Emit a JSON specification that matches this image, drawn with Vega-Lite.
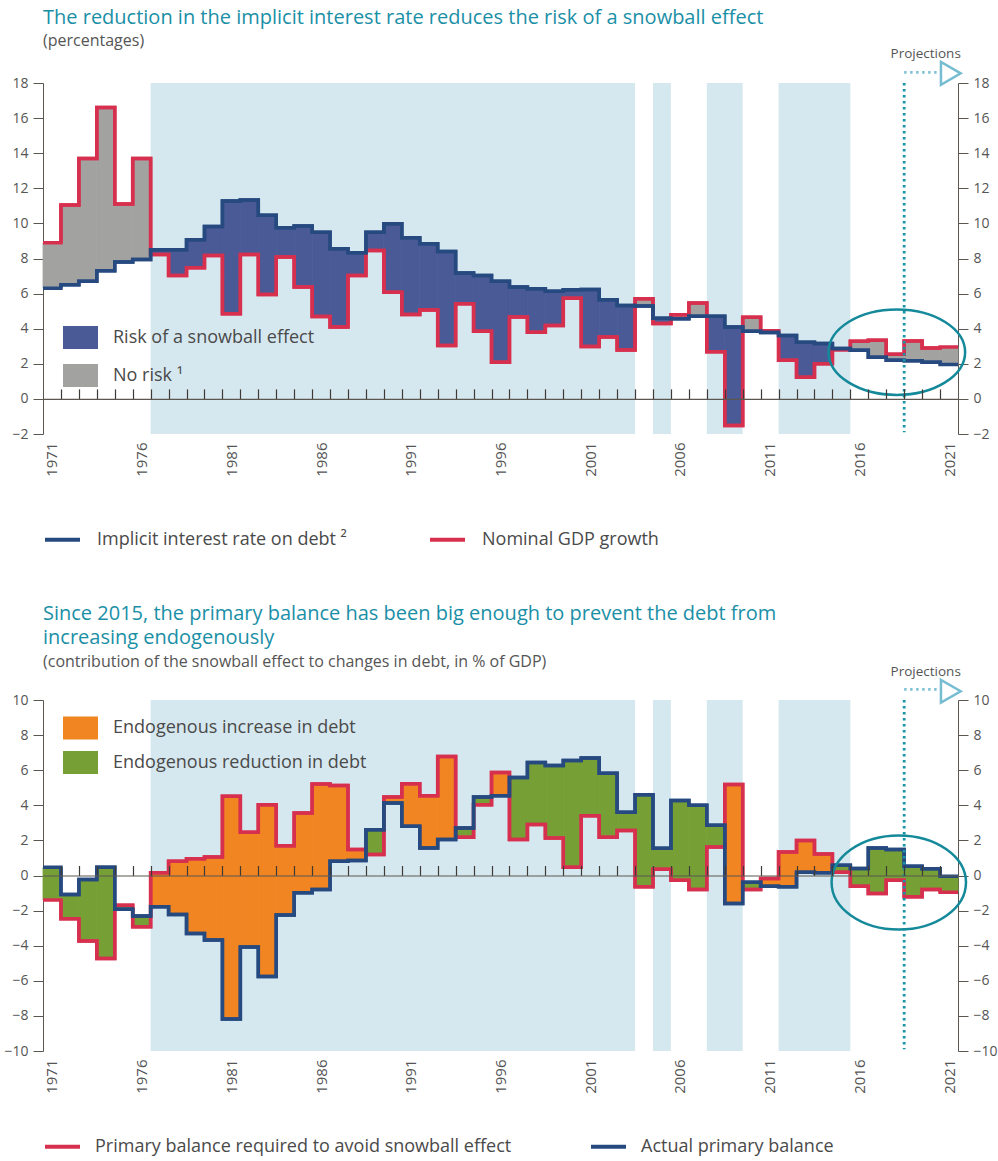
{
  "$schema": "https://vega.github.io/schema/vega-lite/v6.json",
  "background": "white",
  "padding": {"top": 8, "left": 3, "right": 3, "bottom": 0},
  "config": {
    "font": "Open Sans",
    "view": {"stroke": null},
    "axis": {"labelFont": "Open Sans", "labelColor": "#555555", "domainColor": "#5b5650", "tickColor": "#5b5650", "grid": false, "title": null, "labelOverlap": false, "labelBound": false, "labelFlush": false},
    "legend": {"labelFont": "Open Sans", "labelColor": "#4a4a4a", "title": null, "labelLimit": 0}
  },
  "resolve": {"scale": {"fill": "independent", "stroke": "independent"}, "legend": {"fill": "independent", "stroke": "independent"}},
  "spacing": 54,
  "datasets": {
    "bands": [
      {"start": 1977, "end": 2004},
      {"start": 2005, "end": 2006},
      {"start": 2008, "end": 2010},
      {"start": 2012, "end": 2016}
    ],
    "top": [
      {"year": 1971, "end": 1972, "implicit": 6.3, "nominal": 8.9, "category": "No risk ¹"},
      {"year": 1972, "end": 1973, "implicit": 6.5, "nominal": 11.05, "category": "No risk ¹"},
      {"year": 1973, "end": 1974, "implicit": 6.7, "nominal": 13.7, "category": "No risk ¹"},
      {"year": 1974, "end": 1975, "implicit": 7.3, "nominal": 16.6, "category": "No risk ¹"},
      {"year": 1975, "end": 1976, "implicit": 7.8, "nominal": 11.1, "category": "No risk ¹"},
      {"year": 1976, "end": 1977, "implicit": 7.95, "nominal": 13.7, "category": "No risk ¹"},
      {"year": 1977, "end": 1978, "implicit": 8.5, "nominal": 8.23, "category": "Risk of a snowball effect"},
      {"year": 1978, "end": 1979, "implicit": 8.5, "nominal": 7.03, "category": "Risk of a snowball effect"},
      {"year": 1979, "end": 1980, "implicit": 9.07, "nominal": 7.47, "category": "Risk of a snowball effect"},
      {"year": 1980, "end": 1981, "implicit": 9.83, "nominal": 8.17, "category": "Risk of a snowball effect"},
      {"year": 1981, "end": 1982, "implicit": 11.27, "nominal": 4.85, "category": "Risk of a snowball effect"},
      {"year": 1982, "end": 1983, "implicit": 11.33, "nominal": 8.23, "category": "Risk of a snowball effect"},
      {"year": 1983, "end": 1984, "implicit": 10.46, "nominal": 5.95, "category": "Risk of a snowball effect"},
      {"year": 1984, "end": 1985, "implicit": 9.75, "nominal": 8.08, "category": "Risk of a snowball effect"},
      {"year": 1985, "end": 1986, "implicit": 9.85, "nominal": 6.37, "category": "Risk of a snowball effect"},
      {"year": 1986, "end": 1987, "implicit": 9.5, "nominal": 4.7, "category": "Risk of a snowball effect"},
      {"year": 1987, "end": 1988, "implicit": 8.55, "nominal": 4.09, "category": "Risk of a snowball effect"},
      {"year": 1988, "end": 1989, "implicit": 8.33, "nominal": 7.03, "category": "Risk of a snowball effect"},
      {"year": 1989, "end": 1990, "implicit": 9.5, "nominal": 8.46, "category": "Risk of a snowball effect"},
      {"year": 1990, "end": 1991, "implicit": 9.98, "nominal": 6.08, "category": "Risk of a snowball effect"},
      {"year": 1991, "end": 1992, "implicit": 9.18, "nominal": 4.81, "category": "Risk of a snowball effect"},
      {"year": 1992, "end": 1993, "implicit": 8.84, "nominal": 5.06, "category": "Risk of a snowball effect"},
      {"year": 1993, "end": 1994, "implicit": 8.4, "nominal": 3.04, "category": "Risk of a snowball effect"},
      {"year": 1994, "end": 1995, "implicit": 7.17, "nominal": 5.42, "category": "Risk of a snowball effect"},
      {"year": 1995, "end": 1996, "implicit": 7.03, "nominal": 3.86, "category": "Risk of a snowball effect"},
      {"year": 1996, "end": 1997, "implicit": 6.71, "nominal": 2.09, "category": "Risk of a snowball effect"},
      {"year": 1997, "end": 1998, "implicit": 6.37, "nominal": 4.66, "category": "Risk of a snowball effect"},
      {"year": 1998, "end": 1999, "implicit": 6.27, "nominal": 3.8, "category": "Risk of a snowball effect"},
      {"year": 1999, "end": 2000, "implicit": 6.14, "nominal": 4.18, "category": "Risk of a snowball effect"},
      {"year": 2000, "end": 2001, "implicit": 6.22, "nominal": 5.74, "category": "Risk of a snowball effect"},
      {"year": 2001, "end": 2002, "implicit": 6.24, "nominal": 2.98, "category": "Risk of a snowball effect"},
      {"year": 2002, "end": 2003, "implicit": 5.65, "nominal": 3.52, "category": "Risk of a snowball effect"},
      {"year": 2003, "end": 2004, "implicit": 5.32, "nominal": 2.79, "category": "Risk of a snowball effect"},
      {"year": 2004, "end": 2005, "implicit": 5.29, "nominal": 5.7, "category": "No risk ¹"},
      {"year": 2005, "end": 2006, "implicit": 4.6, "nominal": 4.3, "category": "Risk of a snowball effect"},
      {"year": 2006, "end": 2007, "implicit": 4.56, "nominal": 4.8, "category": "No risk ¹"},
      {"year": 2007, "end": 2008, "implicit": 4.71, "nominal": 5.47, "category": "No risk ¹"},
      {"year": 2008, "end": 2009, "implicit": 4.71, "nominal": 2.68, "category": "Risk of a snowball effect"},
      {"year": 2009, "end": 2010, "implicit": 4.1, "nominal": -1.52, "category": "Risk of a snowball effect"},
      {"year": 2010, "end": 2011, "implicit": 3.85, "nominal": 4.65, "category": "No risk ¹"},
      {"year": 2011, "end": 2012, "implicit": 3.78, "nominal": 3.88, "category": "No risk ¹"},
      {"year": 2012, "end": 2013, "implicit": 3.61, "nominal": 2.2, "category": "Risk of a snowball effect"},
      {"year": 2013, "end": 2014, "implicit": 3.23, "nominal": 1.23, "category": "Risk of a snowball effect"},
      {"year": 2014, "end": 2015, "implicit": 3.15, "nominal": 2.01, "category": "Risk of a snowball effect"},
      {"year": 2015, "end": 2016, "implicit": 2.87, "nominal": 2.8, "category": "Risk of a snowball effect"},
      {"year": 2016, "end": 2017, "implicit": 2.77, "nominal": 3.28, "category": "No risk ¹"},
      {"year": 2017, "end": 2018, "implicit": 2.37, "nominal": 3.34, "category": "No risk ¹"},
      {"year": 2018, "end": 2019, "implicit": 2.2, "nominal": 2.54, "category": "No risk ¹"},
      {"year": 2019, "end": 2020, "implicit": 2.18, "nominal": 3.3, "category": "No risk ¹"},
      {"year": 2020, "end": 2021, "implicit": 2.09, "nominal": 2.9, "category": "No risk ¹"},
      {"year": 2021, "end": 2022, "implicit": 1.96, "nominal": 2.96, "category": "No risk ¹"}
    ],
    "bottom": [
      {"year": 1971, "end": 1972, "actual": 0.47, "required": -1.4, "category": "Endogenous reduction in debt"},
      {"year": 1972, "end": 1973, "actual": -1.08, "required": -2.46, "category": "Endogenous reduction in debt"},
      {"year": 1973, "end": 1974, "actual": -0.23, "required": -3.73, "category": "Endogenous reduction in debt"},
      {"year": 1974, "end": 1975, "actual": 0.47, "required": -4.73, "category": "Endogenous reduction in debt"},
      {"year": 1975, "end": 1976, "actual": -1.93, "required": -1.69, "category": "Endogenous reduction in debt"},
      {"year": 1976, "end": 1977, "actual": -2.31, "required": -2.92, "category": "Endogenous reduction in debt"},
      {"year": 1977, "end": 1978, "actual": -1.78, "required": 0.15, "category": "Endogenous increase in debt"},
      {"year": 1978, "end": 1979, "actual": -2.22, "required": 0.81, "category": "Endogenous increase in debt"},
      {"year": 1979, "end": 1980, "actual": -3.31, "required": 0.95, "category": "Endogenous increase in debt"},
      {"year": 1980, "end": 1981, "actual": -3.67, "required": 1.06, "category": "Endogenous increase in debt"},
      {"year": 1981, "end": 1982, "actual": -8.18, "required": 4.51, "category": "Endogenous increase in debt"},
      {"year": 1982, "end": 1983, "actual": -4.07, "required": 2.46, "category": "Endogenous increase in debt"},
      {"year": 1983, "end": 1984, "actual": -5.76, "required": 4.03, "category": "Endogenous increase in debt"},
      {"year": 1984, "end": 1985, "actual": -2.25, "required": 1.7, "category": "Endogenous increase in debt"},
      {"year": 1985, "end": 1986, "actual": -0.98, "required": 3.56, "category": "Endogenous increase in debt"},
      {"year": 1986, "end": 1987, "actual": -0.8, "required": 5.21, "category": "Endogenous increase in debt"},
      {"year": 1987, "end": 1988, "actual": 0.81, "required": 5.13, "category": "Endogenous increase in debt"},
      {"year": 1988, "end": 1989, "actual": 0.85, "required": 1.48, "category": "Endogenous increase in debt"},
      {"year": 1989, "end": 1990, "actual": 2.61, "required": 1.19, "category": "Endogenous reduction in debt"},
      {"year": 1990, "end": 1991, "actual": 4.13, "required": 4.47, "category": "Endogenous increase in debt"},
      {"year": 1991, "end": 1992, "actual": 2.8, "required": 5.23, "category": "Endogenous increase in debt"},
      {"year": 1992, "end": 1993, "actual": 1.57, "required": 4.55, "category": "Endogenous increase in debt"},
      {"year": 1993, "end": 1994, "actual": 2.05, "required": 6.78, "category": "Endogenous increase in debt"},
      {"year": 1994, "end": 1995, "actual": 2.71, "required": 2.18, "category": "Endogenous reduction in debt"},
      {"year": 1995, "end": 1996, "actual": 4.47, "required": 4.03, "category": "Endogenous reduction in debt"},
      {"year": 1996, "end": 1997, "actual": 4.55, "required": 5.87, "category": "Endogenous increase in debt"},
      {"year": 1997, "end": 1998, "actual": 5.59, "required": 2.05, "category": "Endogenous reduction in debt"},
      {"year": 1998, "end": 1999, "actual": 6.44, "required": 2.9, "category": "Endogenous reduction in debt"},
      {"year": 1999, "end": 2000, "actual": 6.27, "required": 2.14, "category": "Endogenous reduction in debt"},
      {"year": 2000, "end": 2001, "actual": 6.55, "required": 0.47, "category": "Endogenous reduction in debt"},
      {"year": 2001, "end": 2002, "actual": 6.69, "required": 3.41, "category": "Endogenous reduction in debt"},
      {"year": 2002, "end": 2003, "actual": 5.83, "required": 2.18, "category": "Endogenous reduction in debt"},
      {"year": 2003, "end": 2004, "actual": 3.6, "required": 2.56, "category": "Endogenous reduction in debt"},
      {"year": 2004, "end": 2005, "actual": 4.6, "required": -0.64, "category": "Endogenous reduction in debt"},
      {"year": 2005, "end": 2006, "actual": 1.55, "required": 0.36, "category": "Endogenous reduction in debt"},
      {"year": 2006, "end": 2007, "actual": 4.28, "required": -0.27, "category": "Endogenous reduction in debt"},
      {"year": 2007, "end": 2008, "actual": 4.0, "required": -0.8, "category": "Endogenous reduction in debt"},
      {"year": 2008, "end": 2009, "actual": 2.86, "required": 1.63, "category": "Endogenous reduction in debt"},
      {"year": 2009, "end": 2010, "actual": -1.59, "required": 5.19, "category": "Endogenous increase in debt"},
      {"year": 2010, "end": 2011, "actual": -0.38, "required": -0.8, "category": "Endogenous reduction in debt"},
      {"year": 2011, "end": 2012, "actual": -0.61, "required": -0.17, "category": "Endogenous increase in debt"},
      {"year": 2012, "end": 2013, "actual": -0.64, "required": 1.34, "category": "Endogenous increase in debt"},
      {"year": 2013, "end": 2014, "actual": 0.19, "required": 1.99, "category": "Endogenous increase in debt"},
      {"year": 2014, "end": 2015, "actual": 0.15, "required": 1.23, "category": "Endogenous increase in debt"},
      {"year": 2015, "end": 2016, "actual": 0.59, "required": 0.19, "category": "Endogenous reduction in debt"},
      {"year": 2016, "end": 2017, "actual": 0.4, "required": -0.61, "category": "Endogenous reduction in debt"},
      {"year": 2017, "end": 2018, "actual": 1.57, "required": -1.02, "category": "Endogenous reduction in debt"},
      {"year": 2018, "end": 2019, "actual": 1.48, "required": -0.27, "category": "Endogenous reduction in debt"},
      {"year": 2019, "end": 2020, "actual": 0.53, "required": -1.21, "category": "Endogenous reduction in debt"},
      {"year": 2020, "end": 2021, "actual": 0.38, "required": -0.8, "category": "Endogenous reduction in debt"},
      {"year": 2021, "end": 2022, "actual": -0.04, "required": -0.95, "category": "Endogenous reduction in debt"}
    ]
  },
  "vconcat": [
    {
      "width": 915,
      "height": 351,
      "title": {"text": "The reduction in the implicit interest rate reduces the risk of a snowball effect", "subtitle": "(percentages)", "anchor": "start", "frame": "group", "color": "#1a8fa6", "fontSize": 20, "fontWeight": 500, "subtitleColor": "#555555", "subtitleFontSize": 16, "subtitlePadding": 5, "offset": -2},
      "resolve": {"axis": {"x": "independent", "y": "independent"}},
      "layer": [
        {
          "data": {"name": "bands"},
          "mark": {"type": "rect", "color": "#d6e8ef"},
          "encoding": {
            "x": {"field": "start", "type": "quantitative", "scale": {"domain": [1971, 2022], "nice": false, "zero": false},
                  "axis": {"orient": "bottom", "values": [1971.5, 1976.5, 1981.5, 1986.5, 1991.5, 1996.5, 2001.5, 2006.5, 2011.5, 2016.5, 2021.5], "labelExpr": "floor(datum.value)", "labelAngle": -90, "labelFontSize": 15, "labelPadding": 8, "ticks": false, "domain": false}},
            "x2": {"field": "end"}
          }
        },
        {
          "data": {"name": "top"},
          "mark": {"type": "rect", "strokeWidth": 0.8},
          "encoding": {
            "x": {"field": "year", "type": "quantitative", "axis": {"orient": "top", "offset": -315.9, "values": [1972,1973,1974,1975,1976,1977,1978,1979,1980,1981,1982,1983,1984,1985,1986,1987,1988,1989,1990,1991,1992,1993,1994,1995,1996,1997,1998,1999,2000,2001,2002,2003,2004,2005,2006,2007,2008,2009,2010,2011,2012,2013,2014,2015,2016,2017,2018,2019,2020,2021], "labels": false, "tickSize": 10, "tickWidth": 1.2, "domainWidth": 1.2, "tickColor": "#3e3a36", "domainColor": "#5b5650", "zindex": 1}},
            "x2": {"field": "end"},
            "y": {"field": "nominal", "type": "quantitative", "scale": {"domain": [-2, 18], "nice": false, "zero": false},
                  "axis": {"orient": "left", "values": [-2,0,2,4,6,8,10,12,14,16,18], "tickSize": 10, "labelPadding": 5, "labelFontSize": 14}},
            "y2": {"field": "implicit"},
            "fill": {"field": "category", "type": "nominal",
                     "scale": {"domain": ["Risk of a snowball effect", "No risk ¹"], "range": ["#4a5a97", "#a2a2a0"]},
                     "legend": {"orient": "none", "legendX": 20, "legendY": 237, "symbolType": "M-1,-0.657H1V0.657H-1Z", "symbolSize": 1225, "symbolStrokeWidth": 0, "symbolOpacity": 1, "labelFontSize": 18, "labelOffset": 15, "rowPadding": 9}},
            "stroke": {"condition": {"test": "datum.category === 'No risk ¹'", "value": "#a2a2a0"}, "value": "#4a5a97"}
          }
        },
        {
          "data": {"name": "top"},
          "mark": {"type": "line", "interpolate": "step-after", "strokeWidth": 3.5, "strokeJoin": "miter"},
          "encoding": {
            "x": {"field": "year", "type": "quantitative", "axis": null},
            "y": {"field": "nominal", "type": "quantitative", "axis": {"orient": "right", "values": [-2,0,2,4,6,8,10,12,14,16,18], "tickSize": 10, "labelPadding": 5, "labelFontSize": 14}},
            "stroke": {"datum": "Nominal GDP growth", "type": "nominal",
                       "scale": {"domain": ["Implicit interest rate on debt ²", "Nominal GDP growth"], "range": ["#264a80", "#d7304f"]},
                       "legend": {"orient": "none", "legendX": 0, "legendY": 437, "direction": "horizontal", "columns": 2, "columnPadding": 75, "symbolType": "stroke", "symbolSize": 1225, "symbolStrokeWidth": 4, "labelFontSize": 18, "labelOffset": 15}}
          }
        },
        {
          "data": {"name": "top"},
          "mark": {"type": "line", "interpolate": "step-before", "strokeWidth": 3.5, "strokeJoin": "miter"},
          "encoding": {
            "x": {"field": "end", "type": "quantitative", "axis": null},
            "y": {"field": "nominal", "type": "quantitative", "axis": null},
            "stroke": {"datum": "Nominal GDP growth", "type": "nominal"}
          }
        },
        {
          "data": {"name": "top"},
          "mark": {"type": "line", "interpolate": "step-after", "strokeWidth": 3.5, "strokeJoin": "miter"},
          "encoding": {
            "x": {"field": "year", "type": "quantitative", "axis": null},
            "y": {"field": "implicit", "type": "quantitative", "axis": null},
            "stroke": {"datum": "Implicit interest rate on debt ²", "type": "nominal"}
          }
        },
        {
          "data": {"name": "top"},
          "mark": {"type": "line", "interpolate": "step-before", "strokeWidth": 3.5, "strokeJoin": "miter"},
          "encoding": {
            "x": {"field": "end", "type": "quantitative", "axis": null},
            "y": {"field": "implicit", "type": "quantitative", "axis": null},
            "stroke": {"datum": "Implicit interest rate on debt ²", "type": "nominal"}
          }
        },
        {
          "data": {"values": [{}]},
          "mark": {"type": "rule", "color": "#1a95a5", "strokeWidth": 2.8, "strokeDash": [2.4, 3.6]},
          "encoding": {"x": {"datum": 2019, "type": "quantitative", "axis": null}, "y": {"datum": 18.0, "type": "quantitative", "axis": null}, "y2": {"datum": -1.9}}
        },
        {
          "data": {"values": [{}]},
          "mark": {"type": "rule", "color": "#7cc0d3", "strokeWidth": 2.8, "strokeDash": [2.4, 3.6]},
          "encoding": {"x": {"datum": 2019, "type": "quantitative", "axis": null}, "x2": {"datum": 2021.0}, "y": {"datum": 18.6, "type": "quantitative", "axis": null}}
        },
        {
          "data": {"values": [{}]},
          "mark": {"type": "point", "shape": "triangle-right", "filled": false, "stroke": "#77bdd1", "strokeWidth": 2.5, "size": 520, "opacity": 1},
          "encoding": {"x": {"datum": 2021.6, "type": "quantitative", "axis": null}, "y": {"datum": 18.55, "type": "quantitative", "axis": null}}
        },
        {
          "data": {"values": [{}]},
          "mark": {"type": "text", "text": "Projections", "fontSize": 13.5, "color": "#555555", "align": "center", "baseline": "middle"},
          "encoding": {"x": {"datum": 2020.2, "type": "quantitative", "axis": null}, "y": {"datum": 19.65, "type": "quantitative", "axis": null}}
        },
        {
          "data": {"values": [{}]},
          "mark": {"type": "point", "shape": "M-1,0C-1,-0.3452,-0.5523,-0.625,0,-0.625C0.5523,-0.625,1,-0.3452,1,0C1,0.3452,0.5523,0.625,0,0.625C-0.5523,0.625,-1,0.3452,-1,0Z", "filled": false, "stroke": "#14899a", "strokeWidth": 2.5, "size": 18660, "opacity": 1},
          "encoding": {"x": {"datum": 2018.59, "type": "quantitative", "axis": null}, "y": {"datum": 2.66, "type": "quantitative", "axis": null}}
        }
      ]
    },
    {
      "width": 915,
      "height": 351,
      "title": {"text": ["Since 2015, the primary balance has been big enough to prevent the debt from", "increasing endogenously"], "subtitle": "(contribution of the snowball effect to changes in debt, in % of GDP)", "anchor": "start", "frame": "group", "color": "#1a8fa6", "fontSize": 20, "fontWeight": 500, "lineHeight": 24, "subtitleColor": "#555555", "subtitleFontSize": 16, "subtitlePadding": 6, "offset": -5},
      "resolve": {"axis": {"x": "independent", "y": "independent"}},
      "layer": [
        {
          "data": {"name": "bands"},
          "mark": {"type": "rect", "color": "#d6e8ef"},
          "encoding": {
            "x": {"field": "start", "type": "quantitative", "scale": {"domain": [1971, 2022], "nice": false, "zero": false},
                  "axis": {"orient": "bottom", "values": [1971.5, 1976.5, 1981.5, 1986.5, 1991.5, 1996.5, 2001.5, 2006.5, 2011.5, 2016.5, 2021.5], "labelExpr": "floor(datum.value)", "labelAngle": -90, "labelFontSize": 15, "labelPadding": 8, "ticks": false, "domain": false}},
            "x2": {"field": "end"}
          }
        },
        {
          "data": {"name": "bottom"},
          "mark": {"type": "rect", "strokeWidth": 0.8},
          "encoding": {
            "x": {"field": "year", "type": "quantitative", "axis": {"orient": "top", "offset": -175.5, "values": [1972,1973,1974,1975,1976,1977,1978,1979,1980,1981,1982,1983,1984,1985,1986,1987,1988,1989,1990,1991,1992,1993,1994,1995,1996,1997,1998,1999,2000,2001,2002,2003,2004,2005,2006,2007,2008,2009,2010,2011,2012,2013,2014,2015,2016,2017,2018,2019,2020,2021], "labels": false, "tickSize": 10, "tickWidth": 1.2, "domainWidth": 1.2, "tickColor": "#3e3a36", "domainColor": "#5b5650", "zindex": 1}},
            "x2": {"field": "end"},
            "y": {"field": "required", "type": "quantitative", "scale": {"domain": [-10, 10], "nice": false, "zero": false},
                  "axis": {"orient": "left", "values": [-10,-8,-6,-4,-2,0,2,4,6,8,10], "tickSize": 10, "labelPadding": 5, "labelFontSize": 14}},
            "y2": {"field": "actual"},
            "fill": {"field": "category", "type": "nominal",
                     "scale": {"domain": ["Endogenous increase in debt", "Endogenous reduction in debt"], "range": ["#f18522", "#76a035"]},
                     "legend": {"orient": "none", "legendX": 20, "legendY": 10.5, "symbolType": "M-1,-0.657H1V0.657H-1Z", "symbolSize": 1225, "symbolStrokeWidth": 0, "symbolOpacity": 1, "labelFontSize": 18, "labelOffset": 15, "rowPadding": 5.5}},
            "stroke": {"condition": {"test": "datum.category === 'Endogenous increase in debt'", "value": "#f18522"}, "value": "#76a035"}
          }
        },
        {
          "data": {"name": "bottom"},
          "mark": {"type": "line", "interpolate": "step-after", "strokeWidth": 3.5, "strokeJoin": "miter"},
          "encoding": {
            "x": {"field": "year", "type": "quantitative", "axis": null},
            "y": {"field": "required", "type": "quantitative", "axis": {"orient": "right", "values": [-10,-8,-6,-4,-2,0,2,4,6,8,10], "tickSize": 10, "labelPadding": 5, "labelFontSize": 14}},
            "stroke": {"datum": "Primary balance required to avoid snowball effect", "type": "nominal",
                       "scale": {"domain": ["Primary balance required to avoid snowball effect", "Actual primary balance"], "range": ["#d7304f", "#264a80"]},
                       "legend": {"orient": "none", "legendX": 0, "legendY": 427, "direction": "horizontal", "columns": 2, "columnPadding": 71, "symbolType": "stroke", "symbolSize": 1225, "symbolStrokeWidth": 4, "labelFontSize": 18, "labelOffset": 13}}
          }
        },
        {
          "data": {"name": "bottom"},
          "mark": {"type": "line", "interpolate": "step-before", "strokeWidth": 3.5, "strokeJoin": "miter"},
          "encoding": {
            "x": {"field": "end", "type": "quantitative", "axis": null},
            "y": {"field": "required", "type": "quantitative", "axis": null},
            "stroke": {"datum": "Primary balance required to avoid snowball effect", "type": "nominal"}
          }
        },
        {
          "data": {"name": "bottom"},
          "mark": {"type": "line", "interpolate": "step-after", "strokeWidth": 3.5, "strokeJoin": "miter"},
          "encoding": {
            "x": {"field": "year", "type": "quantitative", "axis": null},
            "y": {"field": "actual", "type": "quantitative", "axis": null},
            "stroke": {"datum": "Actual primary balance", "type": "nominal"}
          }
        },
        {
          "data": {"name": "bottom"},
          "mark": {"type": "line", "interpolate": "step-before", "strokeWidth": 3.5, "strokeJoin": "miter"},
          "encoding": {
            "x": {"field": "end", "type": "quantitative", "axis": null},
            "y": {"field": "actual", "type": "quantitative", "axis": null},
            "stroke": {"datum": "Actual primary balance", "type": "nominal"}
          }
        },
        {
          "data": {"values": [{}]},
          "mark": {"type": "rule", "color": "#1a95a5", "strokeWidth": 2.8, "strokeDash": [2.4, 3.6]},
          "encoding": {"x": {"datum": 2019, "type": "quantitative", "axis": null}, "y": {"datum": 10.0, "type": "quantitative", "axis": null}, "y2": {"datum": -9.9}}
        },
        {
          "data": {"values": [{}]},
          "mark": {"type": "rule", "color": "#7cc0d3", "strokeWidth": 2.8, "strokeDash": [2.4, 3.6]},
          "encoding": {"x": {"datum": 2019, "type": "quantitative", "axis": null}, "x2": {"datum": 2021.0}, "y": {"datum": 10.6, "type": "quantitative", "axis": null}}
        },
        {
          "data": {"values": [{}]},
          "mark": {"type": "point", "shape": "triangle-right", "filled": false, "stroke": "#77bdd1", "strokeWidth": 2.5, "size": 520, "opacity": 1},
          "encoding": {"x": {"datum": 2021.6, "type": "quantitative", "axis": null}, "y": {"datum": 10.5, "type": "quantitative", "axis": null}}
        },
        {
          "data": {"values": [{}]},
          "mark": {"type": "text", "text": "Projections", "fontSize": 13.5, "color": "#555555", "align": "center", "baseline": "middle"},
          "encoding": {"x": {"datum": 2020.2, "type": "quantitative", "axis": null}, "y": {"datum": 11.62, "type": "quantitative", "axis": null}}
        },
        {
          "data": {"values": [{}]},
          "mark": {"type": "point", "shape": "M-1,0C-1,-0.3866,-0.5523,-0.7,0,-0.7C0.5523,-0.7,1,-0.3866,1,0C1,0.3866,0.5523,0.7,0,0.7C-0.5523,0.7,-1,0.3866,-1,0Z", "filled": false, "stroke": "#14899a", "strokeWidth": 2.5, "size": 18063, "opacity": 1},
          "encoding": {"x": {"datum": 2018.7, "type": "quantitative", "axis": null}, "y": {"datum": -0.4, "type": "quantitative", "axis": null}}
        }
      ]
    }
  ]
}
